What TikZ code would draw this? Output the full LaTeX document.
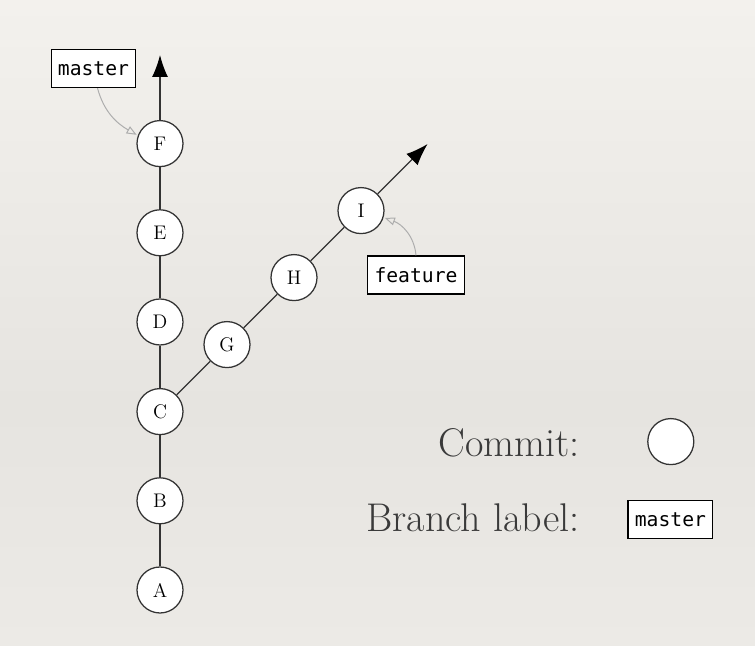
\documentclass[tikz,border=0pt]{standalone}
\usepackage{fontspec}
\newfontfamily\labelfont{DejaVu Sans Mono}
\usetikzlibrary{arrows.meta}

\definecolor{linegray}{HTML}{333333}
\definecolor{pointgray}{HTML}{ADADAD}
\definecolor{textgray}{HTML}{3A3A3A}
\definecolor{papertop}{HTML}{F3F1ED}
\definecolor{papermid}{HTML}{E6E4E0}
\definecolor{paperbot}{HTML}{ECEAE6}

\tikzset{
  commit/.style={circle,draw=linegray,fill=white,line width=0.9pt,minimum size=1.15cm,inner sep=0pt,font=\fontsize{14}{16}\selectfont},
  branch/.style={draw=black,fill=white,line width=0.9pt,minimum height=0.95cm,inner xsep=0.17cm,font=\fontsize{14}{16}\labelfont},
  history/.style={linegray,line width=0.9pt},
  head/.style={history,-{Latex[length=5.5mm,width=4mm,color=black]}},
  pointer/.style={pointgray,line width=0.7pt,-{Triangle[open,length=2.5mm,width=2mm]},shorten >=1pt},
  legendtext/.style={textgray,anchor=base east,inner sep=0pt,font=\fontsize{28.5}{32}\selectfont}
}

\begin{document}
\begin{tikzpicture}

% paper background
\useasboundingbox (0,0) rectangle (18.875,16.15);
\shade[bottom color=papermid,top color=papertop] (0,6) rectangle (18.875,16.15);
\shade[bottom color=paperbot,top color=papermid] (0,0) rectangle (18.875,6);

% master history
\node[commit] (A) at (4,1.4) {A};
\node[commit] (B) at (4,3.63) {B};
\node[commit] (C) at (4,5.86) {C};
\node[commit] (D) at (4,8.1) {D};
\node[commit] (E) at (4,10.33) {E};
\node[commit] (F) at (4,12.56) {F};
\coordinate (mastertip) at (4,14.775);

% feature history
\node[commit] (G) at (5.675,7.535) {G};
\node[commit] (H) at (7.35,9.21) {H};
\node[commit] (I) at (9.025,10.885) {I};
\coordinate (featuretip) at (10.69,12.55);

\draw[history] (A) -- (B) -- (C) -- (D) -- (E) -- (F);
\draw[head] (F) -- (mastertip);
\draw[history] (C) -- (G) -- (H) -- (I);
\draw[head] (I) -- (featuretip);

% branch labels
\node[branch] (master) at (2.3375,14.4375) {master};
\node[branch] (feature) at (10.4,9.275) {feature};
\draw[pointer] ([xshift=0.1cm]master.south) to[out=-75,in=150] (F.160);
\draw[pointer] (feature.north) to[out=95,in=-20] (I.-17);

% legend
\node[legendtext] (committext) at (14.5,4.73) {Commit:};
\node[commit] (commitkey) at (16.77,5.11) {};
\node[legendtext] (branchtext) at (14.5,2.85) {Branch label:};
\node[branch] (branchkey) at (16.76,3.16) {master};

\end{tikzpicture}
\end{document}
